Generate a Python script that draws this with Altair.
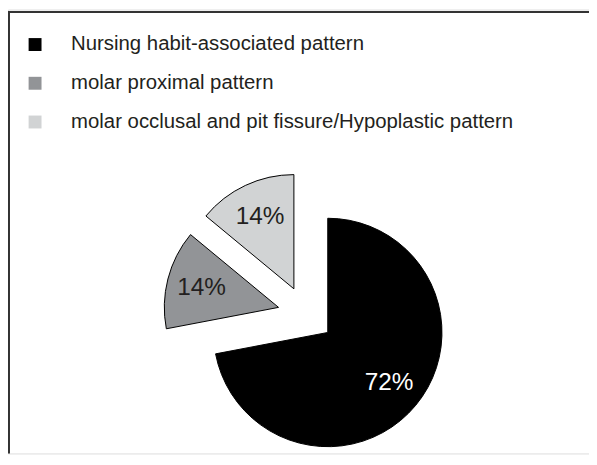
import math
import altair as alt
import pandas as pd

categories = [
    "Nursing habit-associated pattern",
    "molar proximal pattern",
    "molar occlusal and pit fissure/Hypoplastic pattern",
]
values = [72, 14, 14]
labels = ["72%", "14%", "14%"]
colors = ["#000000", "#929497", "#d1d3d4"]
label_colors = ["#ffffff", "#231f20", "#231f20"]

W, H = 585, 447
CX, CY = 300, 307
R = 115
EXPLODE = 28.5
LABEL_R = 80
FONT = "Liberation Sans"

total = sum(values)
starts, ends = [], []
acc = 0
for v in values:
    starts.append(acc)
    acc += v
    ends.append(acc)

df = pd.DataFrame({
    "category": categories,
    "value": values,
    "label": labels,
    "start": starts,
    "end": ends,
    "lcolor": label_colors,
})
mid = (df["start"] + df["end"]) / 2 / total * 2 * math.pi
df["px"] = CX + EXPLODE * mid.apply(math.sin)
df["py"] = CY - EXPLODE * mid.apply(math.cos)
df["tx"] = CX + (EXPLODE + LABEL_R) * mid.apply(math.sin)
df["ty"] = CY - (EXPLODE + LABEL_R) * mid.apply(math.cos)

base = alt.Chart(df)

pie = base.mark_arc(outerRadius=R, stroke="#000000", strokeWidth=1).encode(
    theta=alt.Theta("start:Q", scale=alt.Scale(domain=[0, total], range=[0, 2 * math.pi])),
    theta2="end:Q",
    x=alt.X("px:Q", scale=None),
    y=alt.Y("py:Q", scale=None),
    color=alt.Color(
        "category:N",
        scale=alt.Scale(domain=categories, range=colors),
        sort=categories,
        legend=alt.Legend(
            title=None,
            orient="none",
            legendX=17,
            legendY=25,
            symbolType="square",
            symbolSize=169,
            symbolStrokeWidth=0,
            labelFontSize=20.5,
            labelFont=FONT,
            labelColor="#231f20",
            labelOffset=26,
            labelLimit=700,
            rowPadding=18,
        ),
    ),
)

text = base.mark_text(font=FONT, fontSize=24.5, baseline="middle", align="center").encode(
    x=alt.X("tx:Q", scale=None),
    y=alt.Y("ty:Q", scale=None),
    text="label:N",
    color=alt.Color("lcolor:N", scale=None),
)

top_rule = alt.Chart(pd.DataFrame({"a": [0]})).mark_rule(color="#333333", strokeWidth=2).encode(
    x=alt.value(0), x2=alt.value(W), y=alt.value(2.5)
)
left_rule = alt.Chart(pd.DataFrame({"a": [0]})).mark_rule(color="#333333", strokeWidth=2).encode(
    x=alt.value(1), y=alt.value(1.5), y2=alt.value(H)
)

chart = alt.layer(top_rule, left_rule, pie, text).properties(
    width=W, height=H, padding=0, autosize=alt.AutoSizeParams(type="none")
).configure_view(strokeWidth=0).configure(background="#ffffff")

chart.save("out.html", embed_options={"renderer": "svg", "actions": False})
